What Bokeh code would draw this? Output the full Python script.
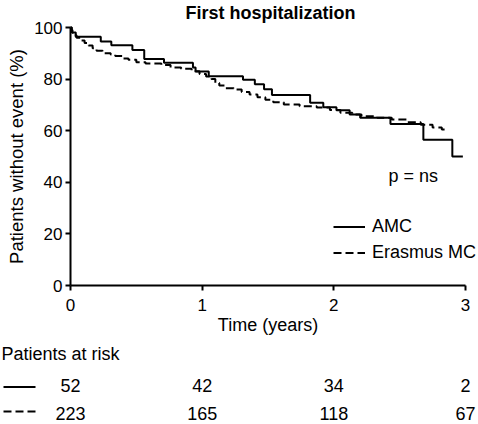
from bokeh.plotting import figure
from bokeh.models import Range1d, Legend, LegendItem, FixedTicker, ColumnDataSource, Label
from bokeh.core.properties import value
from bokeh.embed import file_html
from bokeh.resources import INLINE

FONT = "Liberation Sans"

# Kaplan-Meier curves (time in years, % without event)
amc_time = [0, 0.01, 0.04, 0.23, 0.31, 0.47, 0.56, 0.71, 0.93, 0.95, 1.05, 1.31,
            1.40, 1.47, 1.53, 1.82, 1.92, 2.02, 2.12, 2.20, 2.43, 2.68, 2.90, 2.98]
amc_surv = [100, 98.1, 96.4, 94.6, 93.1, 91.3, 87.8, 86.3, 84.5, 82.9, 81.1, 79.7,
            78.0, 76.1, 73.8, 70.8, 69.1, 67.9, 66.3, 65.0, 62.6, 56.5, 50.0, 50.0]

emc_time = [0, 0.008, 0.015, 0.03, 0.046, 0.076, 0.107, 0.137, 0.168, 0.198, 0.244,
            0.305, 0.34, 0.40, 0.44, 0.50, 0.57, 0.69, 0.76, 0.84, 0.92, 0.98, 1.03,
            1.07, 1.10, 1.13, 1.18, 1.24, 1.30, 1.36, 1.42, 1.48, 1.54, 1.62, 1.74,
            1.87, 1.97, 2.05, 2.14, 2.21, 2.33, 2.44, 2.56, 2.66, 2.75, 2.82, 2.87]
emc_surv = [100, 99, 98, 97, 96, 95, 94, 93, 92, 91, 90,
            89.5, 89, 88, 87.5, 86.5, 86, 85.5, 84.5, 84, 83, 82, 81,
            80, 78.5, 77.5, 76.5, 76, 75, 74, 73, 72, 71, 70.2, 69.5,
            69, 68, 67, 66.3, 65.6, 65, 64.3, 63.3, 62.3, 61.2, 60.5, 60.5]

# Patients at risk table
risk_times = [0, 1, 2, 3]
amc_at_risk = [52, 42, 34, 2]
emc_at_risk = [223, 165, 118, 67]

x_ticks = [0, 1, 2, 3]
y_ticks = [0, 20, 40, 60, 80, 100]

DASH = "8 4"

# ---- layout (pixels): the frame covers the whole canvas, axes sit inside ----
W, H = 478, 424
AX_L, AX_R, AX_T, AX_B = 70, 465, 27, 285          # where x=0..3 and y=0..100 fall
sx = (AX_R - AX_L) / 3.0
sy = (AX_B - AX_T) / 100.0
BASE_FIX = 6.5   # svg alphabetic baseline renders lower; compensate


def dx(px):   # page pixel -> data x
    return (px - AX_L) / sx


def dy(py):   # page pixel -> data y
    return (AX_B - py) / sy


def dyb(py):  # page pixel of a text baseline -> data y
    return dy(py - BASE_FIX)


p = figure(width=W, height=H,
           x_range=Range1d(dx(0), dx(W)), y_range=Range1d(dy(H), dy(0)),
           output_backend="svg", toolbar_location=None,
           min_border_left=0, min_border_right=0, min_border_top=0,
           min_border_bottom=0)
p.outline_line_color = None
p.grid.visible = False

r_amc = p.step(amc_time, amc_surv, mode="after", line_color="black", line_width=2)
r_emc = p.step(emc_time, emc_surv, mode="after", line_color="black", line_width=2,
               line_dash=DASH)

xa, ya = p.xaxis[0], p.yaxis[0]
xa.ticker = FixedTicker(ticks=x_ticks)
ya.ticker = FixedTicker(ticks=y_ticks)
xa.fixed_location = 0
ya.fixed_location = 0
xa.bounds = (0, 3)
ya.bounds = (0, 100)
for ax in (xa, ya):
    ax.axis_line_width = 2
    ax.axis_line_color = "black"
    ax.major_tick_line_width = 2
    ax.major_tick_line_color = "black"
    ax.major_tick_in = 0
    ax.major_tick_out = 5
    ax.minor_tick_line_color = None
    ax.major_label_text_font = FONT
    ax.major_label_text_font_size = "17px"
    ax.major_label_text_color = "black"
    ax.axis_label_text_font = FONT
    ax.axis_label_text_font_style = "normal"
    ax.axis_label_text_color = "black"

xa.axis_label = "Time (years)"
xa.axis_label_text_font_size = "18px"
xa.major_label_standoff = 8
xa.axis_label_standoff = 1

ya.axis_label = "Patients without event (%)"
ya.axis_label_text_font_size = "18.5px"
ya.major_label_standoff = 3
ya.axis_label_standoff = 4

# title
p.add_layout(Label(x=dx(270), y=dyb(19), text="First hospitalization",
                   text_align="center", text_baseline="alphabetic",
                   text_font=FONT, text_font_size="18px",
                   text_font_style="bold", text_color="black"))

# p-value
p.add_layout(Label(x=dx(388), y=dyb(182), text="p = ns", text_align="left",
                   text_baseline="alphabetic", text_font=FONT,
                   text_font_size="18px", text_color="black"))

legend = Legend(items=[LegendItem(label="AMC", renderers=[r_amc]),
                       LegendItem(label="Erasmus MC", renderers=[r_emc])],
                location=(333, H - 264), glyph_width=32, glyph_height=23,
                label_height=23, spacing=3, padding=0, margin=0,
                label_standoff=7, border_line_alpha=0,
                background_fill_alpha=0, label_text_font=FONT,
                label_text_font_size="18px", label_text_color="black")
p.add_layout(legend)

# ---- patients at risk ----
risk_src = ColumnDataSource(data=dict(
    t=risk_times,
    amc=[str(v) for v in amc_at_risk],
    emc=[str(v) for v in emc_at_risk],
))

p.text(x=[dx(1)], y=[dyb(360)], text=["Patients at risk"], text_align="left",
       text_baseline="alphabetic", text_font=value(FONT),
       text_font_size=value("18px"), text_color="black")
p.text(x="t", y=dyb(391.5), text="amc", source=risk_src, text_align="center",
       text_baseline="alphabetic", text_font=value(FONT),
       text_font_size=value("18px"), text_color="black")
p.text(x="t", y=dyb(419.5), text="emc", source=risk_src, text_align="center",
       text_baseline="alphabetic", text_font=value(FONT),
       text_font_size=value("18px"), text_color="black")

KEY_X = [dx(3), dx(35)]
p.line(KEY_X, [dy(386.5)] * 2, line_color="black", line_width=2)
p.line(KEY_X, [dy(411)] * 2, line_color="black", line_width=2, line_dash=DASH)

open("out.html", "w").write(file_html(p, INLINE))
